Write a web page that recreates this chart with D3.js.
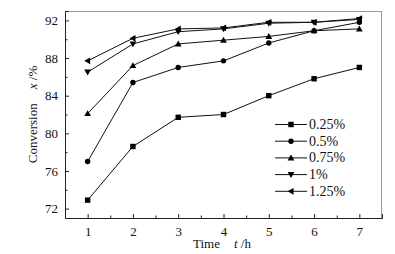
<!DOCTYPE html>
<html><head><meta charset="utf-8">
<script src="https://cdn.jsdelivr.net/npm/d3@7"></script>
<style>body{margin:0;background:#fff}svg{display:block}text{font-family:"Liberation Serif","Times New Roman",serif;fill:#111}</style>
</head><body>
<script>
const times = [1,2,3,4,5,6,7];
const seriesNames = ["0.25%","0.5%","0.75%","1%","1.25%"];
const s025 = [72.9,78.6,81.7,82.0,84.0,85.8,87.0];
const s05  = [77.0,85.4,87.0,87.7,89.6,90.9,91.8];
const s075 = [82.1,87.2,89.5,89.9,90.3,90.9,91.1];
const s1   = [86.5,89.5,90.8,91.1,91.7,91.8,92.1];
const s125 = [87.7,90.1,91.1,91.2,91.8,91.8,92.2];
const yTicks = [72,76,80,84,88,92];
const xTicks = [1,2,3,4,5,6,7];
const allSeries = [s025,s05,s075,s1,s125];
const markers = ["square","circle","tri-up","tri-down","tri-left"];

const W=395,H=254, L=65,R=382,T=11,B=218;
const svg=d3.select("body").append("svg").attr("width",W).attr("height",H);
const x=d3.scaleLinear().domain([0.5,7.5]).range([L,R]);
const y=d3.scaleLinear().domain([71,93]).range([B,T]);

// frame top/right
svg.append("line").attr("x1",L).attr("x2",R).attr("y1",T+0.5).attr("y2",T+0.5).attr("stroke","#999");
svg.append("line").attr("x1",R-0.5).attr("x2",R-0.5).attr("y1",T).attr("y2",B).attr("stroke","#999");

// axes
const xAxis=svg.append("g").attr("transform",`translate(0,${B})`)
  .call(d3.axisBottom(x).tickValues(xTicks).tickSize(-4).tickPadding(9).tickFormat(d3.format("d")));
const xMinor=svg.append("g").attr("transform",`translate(0,${B})`)
  .call(d3.axisBottom(x).tickValues(d3.range(1.5,7.5,1)).tickSize(-2.5).tickFormat(""));
const yAxis=svg.append("g").attr("transform",`translate(${L},0)`)
  .call(d3.axisLeft(y).tickValues(yTicks).tickSize(-4).tickPadding(7).tickFormat(d3.format("d")));
const yMinor=svg.append("g").attr("transform",`translate(${L},0)`)
  .call(d3.axisLeft(y).tickValues([74,78,82,86,90]).tickSize(-2.5).tickFormat(""));
[xAxis,xMinor,yAxis,yMinor].forEach(g=>{
  g.selectAll("path").attr("stroke","#222");
  g.selectAll("line").attr("stroke","#222");
  g.selectAll("text").style("font-size","13px").style("font-family",'"Liberation Serif",serif').attr("fill","#111");
});
xMinor.select("path").remove(); yMinor.select("path").remove();

function drawMarker(g,type,cx,cy){
  const s=2.7;
  if(type==="square") g.append("rect").attr("x",cx-s).attr("y",cy-s).attr("width",2*s).attr("height",2*s).attr("fill","#000");
  else if(type==="circle") g.append("circle").attr("cx",cx).attr("cy",cy).attr("r",2.7).attr("fill","#000");
  else {
    const a=3.4;
    let pts;
    if(type==="tri-up") pts=[[cx,cy-a],[cx-a,cy+a*0.75],[cx+a,cy+a*0.75]];
    else if(type==="tri-down") pts=[[cx,cy+a],[cx-a,cy-a*0.75],[cx+a,cy-a*0.75]];
    else pts=[[cx-a,cy],[cx+a*0.75,cy-a],[cx+a*0.75,cy+a]];
    g.append("polygon").attr("points",pts.map(p=>p.join(",")).join(" ")).attr("fill","#000");
  }
}

const line=d3.line().x((d,i)=>x(times[i])).y(d=>y(d));
allSeries.forEach((vals,k)=>{
  const g=svg.append("g");
  g.append("path").attr("d",line(vals)).attr("fill","none").attr("stroke","#111").attr("stroke-width",1);
  vals.forEach((v,i)=>drawMarker(g,markers[k],x(times[i]),y(v)));
});

// legend
const legY0=124.5, legDy=16.7;
seriesNames.forEach((n,k)=>{
  const ly=legY0+k*legDy;
  const g=svg.append("g");
  g.append("line").attr("x1",275).attr("x2",307).attr("y1",ly).attr("y2",ly).attr("stroke","#111");
  drawMarker(g,markers[k],291,ly);
  g.append("text").attr("x",309).attr("y",ly+4.5).style("font-size","14px").text(n);
});

// axis titles
const xt=svg.append("text").attr("x",222).attr("y",248).attr("text-anchor","middle").style("font-size","13px");
xt.append("tspan").text("Time");
xt.append("tspan").attr("dx",14).style("font-style","italic").text("t");
xt.append("tspan").text(" /h");
const yt=svg.append("text").attr("transform",`translate(37,${(T+B)/2}) rotate(-90)`).attr("text-anchor","middle").style("font-size","13px");
yt.append("tspan").text("Conversion");
yt.append("tspan").attr("dx",14).style("font-style","italic").text("x");
yt.append("tspan").text(" /%");
</script>
</body></html>
